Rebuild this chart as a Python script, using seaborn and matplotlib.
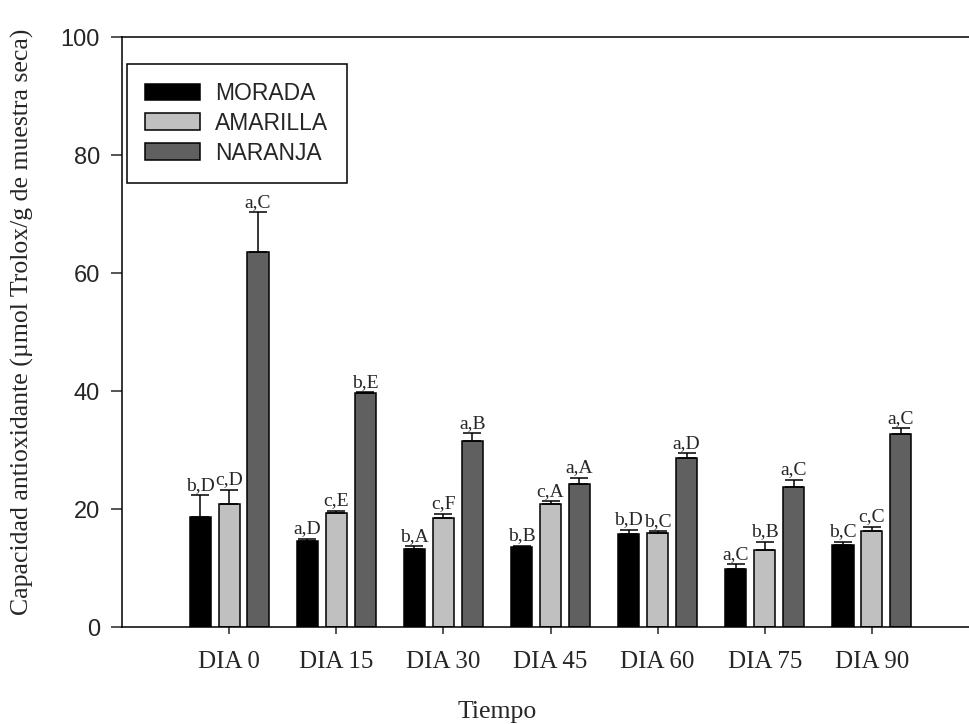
import matplotlib
matplotlib.use("Agg")
import matplotlib.pyplot as plt
import seaborn as sns
import pandas as pd

dias = ["DIA 0", "DIA 15", "DIA 30", "DIA 45", "DIA 60", "DIA 75", "DIA 90"]
variedades = ["MORADA", "AMARILLA", "NARANJA"]

morada = [18.7, 14.6, 13.3, 13.6, 15.8, 9.8, 13.9]
amarilla = [20.8, 19.4, 18.4, 20.8, 15.9, 13.1, 16.3]
naranja = [63.6, 39.6, 31.5, 24.2, 28.6, 23.7, 32.7]

err_morada = [3.6, 0.3, 0.4, 0.15, 0.7, 0.8, 0.5]
err_amarilla = [2.5, 0.3, 0.8, 0.5, 0.3, 1.3, 0.7]
err_naranja = [6.7, 0.2, 1.3, 1.1, 0.85, 1.3, 1.0]

let_morada = ["b,D", "a,D", "b,A", "b,B", "b,D", "a,C", "b,C"]
let_amarilla = ["c,D", "c,E", "c,F", "c,A", "b,C", "b,B", "c,C"]
let_naranja = ["a,C", "b,E", "a,B", "a,A", "a,D", "a,C", "a,C"]

colores = ["#000000", "#c0c0c0", "#606060"]

valores = [morada, amarilla, naranja]
errores = [err_morada, err_amarilla, err_naranja]
letras = [let_morada, let_amarilla, let_naranja]

df = pd.DataFrame({
    "dia": dias * 3,
    "variedad": [v for v in variedades for _ in dias],
    "valor": morada + amarilla + naranja,
})

sns.set_style("ticks")
plt.rcParams["font.family"] = ["Liberation Serif", "DejaVu Serif"]

fig = plt.figure(figsize=(9.69, 7.24), dpi=100)
ax = fig.add_axes([122 / 969, 1 - 627 / 724, (979 - 122) / 969, (627 - 37) / 724])

sns.barplot(data=df, x="dia", y="valor", hue="variedad", order=dias,
            hue_order=variedades, palette=colores, width=0.81, gap=0.27,
            edgecolor="black", linewidth=1.1, errorbar=None, ax=ax,
            saturation=1)

for cont, errs, labs in zip(ax.containers, errores, letras):
    for bar, e, lab in zip(cont, errs, labs):
        xc = bar.get_x() + bar.get_width() / 2
        h = bar.get_height()
        ax.errorbar(xc, h, yerr=[[0], [e]], fmt="none", ecolor="black",
                    elinewidth=1.1, capsize=6.5, capthick=1.1, zorder=1)
        ax.annotate(lab, (xc, h + e), xytext=(0, 4), textcoords="offset points",
                    ha="center", va="baseline", fontsize=14,
                    family=["Liberation Serif"])

ax.set_xlim(-1, 7)
ax.set_ylim(0, 100)
ax.set_yticks([0, 20, 40, 60, 80, 100])
for lbl in ax.get_yticklabels():
    lbl.set_family(["Liberation Sans"])
    lbl.set_fontsize(17)
for lbl in ax.get_xticklabels():
    lbl.set_fontsize(18)
ax.tick_params(axis="y", direction="out", length=8, width=1.1, pad=8)
ax.tick_params(axis="x", direction="out", length=5, width=1.1, pad=12)

for s in ["left", "bottom", "top"]:
    ax.spines[s].set_visible(True)
    ax.spines[s].set_linewidth(1.1)
    ax.spines[s].set_color("black")
ax.spines["right"].set_visible(False)

ax.set_xlabel("Tiempo", fontsize=18.5)
ax.set_ylabel("Capacidad antioxidante (µmol Trolox/g de muestra seca)", fontsize=18.5)
ax.xaxis.set_label_coords((497 - 122) / 857, -(701 - 627) / 590)
ax.yaxis.set_label_coords(-(122 - 34) / 857, 0.518)

handles, labels = ax.get_legend_handles_labels()
leg = ax.legend(handles, labels, loc="upper left", bbox_to_anchor=(0.006, 0.955),
                borderaxespad=0, fancybox=False, frameon=True, edgecolor="black",
                prop={"family": ["Liberation Sans"], "size": 16.5},
                handlelength=2.4, handleheight=0.74, handletextpad=0.65,
                labelspacing=0.3, borderpad=0.8, framealpha=1)
leg.get_frame().set_linewidth(1.1)

fig.savefig("out.png", dpi=100)
